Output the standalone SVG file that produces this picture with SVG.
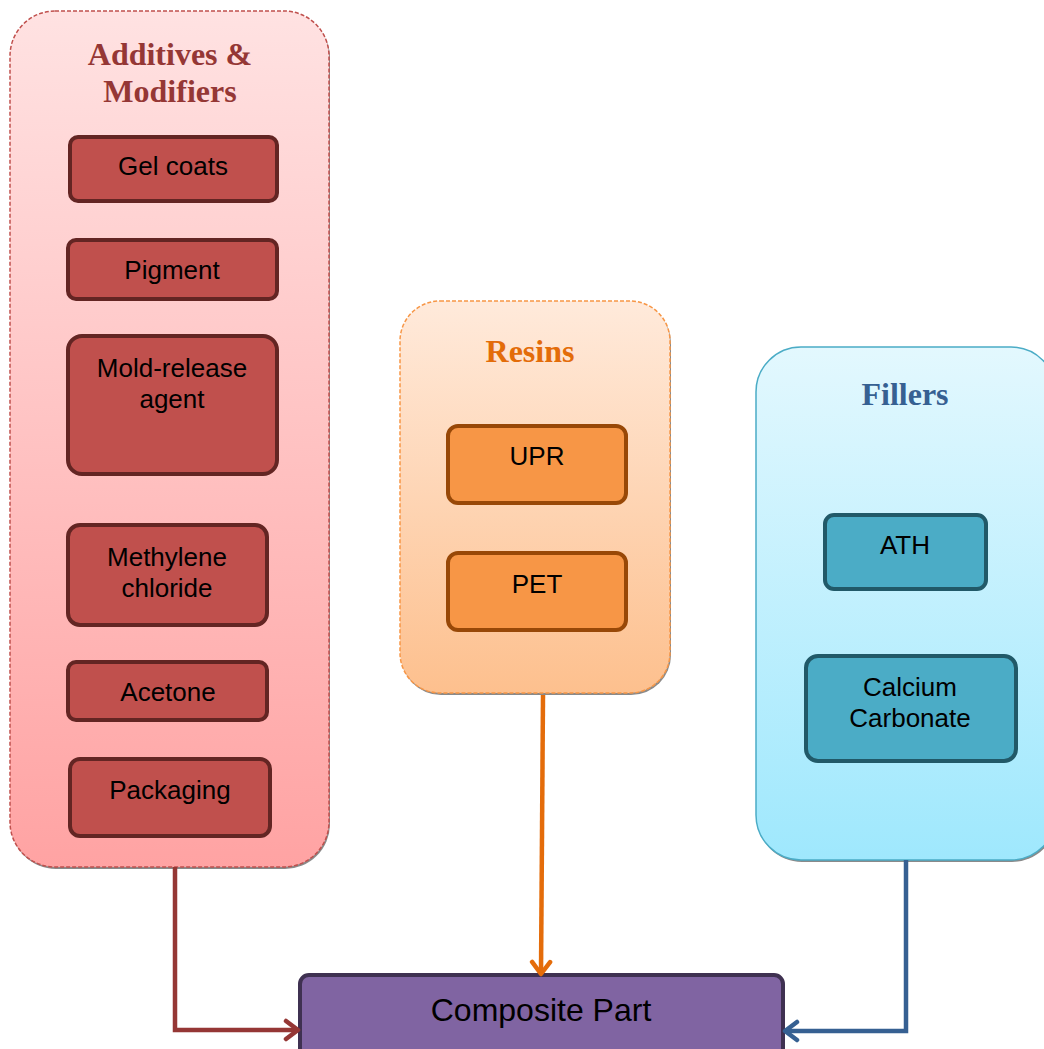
<svg xmlns="http://www.w3.org/2000/svg" width="1044" height="1049" viewBox="0 0 1044 1049">
<defs>
<linearGradient id="gRed" x1="0" y1="0" x2="0" y2="1"><stop offset="0" stop-color="#ffe2e2"/><stop offset="1" stop-color="#ffa3a3"/></linearGradient>
<linearGradient id="gOr" x1="0" y1="0" x2="0" y2="1"><stop offset="0" stop-color="#ffeadb"/><stop offset="1" stop-color="#fdc08e"/></linearGradient>
<linearGradient id="gBl" x1="0" y1="0" x2="0" y2="1"><stop offset="0" stop-color="#e3f8fe"/><stop offset="1" stop-color="#9fe8fd"/></linearGradient>
<marker id="aRed" viewBox="0 0 24 24" refX="21" refY="12" markerWidth="24" markerHeight="24" markerUnits="userSpaceOnUse" orient="auto"><path d="M9,3 L21,12 L9,21" fill="none" stroke="#953735" stroke-width="4.5" stroke-linecap="round" stroke-linejoin="round"/></marker>
<marker id="aOr" viewBox="0 0 24 24" refX="21" refY="12" markerWidth="24" markerHeight="24" markerUnits="userSpaceOnUse" orient="auto"><path d="M9,3 L21,12 L9,21" fill="none" stroke="#e46c0a" stroke-width="4.5" stroke-linecap="round" stroke-linejoin="round"/></marker>
<marker id="aBl" viewBox="0 0 24 24" refX="21" refY="12" markerWidth="24" markerHeight="24" markerUnits="userSpaceOnUse" orient="auto"><path d="M9,3 L21,12 L9,21" fill="none" stroke="#366092" stroke-width="4.5" stroke-linecap="round" stroke-linejoin="round"/></marker>
</defs>
<style>
.title{font-family:"Liberation Serif",serif;font-weight:bold;font-size:32px;text-anchor:middle}
.lbl{font-family:"Liberation Sans",Arial,sans-serif;font-size:26px;text-anchor:middle;fill:#000}
.red{fill:#c0504d;stroke:#632523;stroke-width:4}
.org{fill:#f79646;stroke:#984807;stroke-width:4}
.blu{fill:#4bacc6;stroke:#215968;stroke-width:4}
.shadow{fill:#8a8a8a}
.conn{fill:none;stroke-width:4.5}
</style>
<rect width="1044" height="1049" fill="#fff"/>

<g id="additives">
<rect class="shadow" x="11" y="13" width="319" height="856" rx="45"/>
<rect x="10" y="11" width="319" height="856" rx="45" fill="url(#gRed)" stroke="#c0504d" stroke-width="1.5" stroke-dasharray="4,2"/>
<text class="title" fill="#953735" x="170" y="65">Additives &amp;</text>
<text class="title" fill="#953735" x="170" y="102">Modifiers</text>
</g>
<g id="gelcoats"><rect class="red" x="70" y="137" width="207" height="64" rx="8"/><text class="lbl" x="173" y="175">Gel coats</text></g>
<g id="pigment"><rect class="red" x="68" y="240" width="209" height="59" rx="8"/><text class="lbl" x="172" y="279">Pigment</text></g>
<g id="moldrelease"><rect class="red" x="68" y="336" width="209" height="138" rx="14"/><text class="lbl" x="172" y="377">Mold-release</text><text class="lbl" x="172" y="408">agent</text></g>
<g id="methylene"><rect class="red" x="68" y="525" width="199" height="100" rx="12"/><text class="lbl" x="167" y="566">Methylene</text><text class="lbl" x="167" y="597">chloride</text></g>
<g id="acetone"><rect class="red" x="68" y="662" width="199" height="58" rx="8"/><text class="lbl" x="168" y="701">Acetone</text></g>
<g id="packaging"><rect class="red" x="70" y="759" width="200" height="77" rx="10"/><text class="lbl" x="170" y="799">Packaging</text></g>

<g id="resins">
<rect class="shadow" x="401" y="303" width="270" height="392" rx="40"/>
<rect x="400" y="301" width="270" height="392" rx="40" fill="url(#gOr)" stroke="#f79646" stroke-width="1.5" stroke-dasharray="4,2"/>
<text class="title" fill="#e36c09" x="530" y="362">Resins</text>
</g>
<g id="upr"><rect class="org" x="448" y="426" width="178" height="77" rx="10"/><text class="lbl" x="537" y="465">UPR</text></g>
<g id="pet"><rect class="org" x="448" y="553" width="178" height="77" rx="10"/><text class="lbl" x="537" y="593">PET</text></g>

<g id="fillers">
<rect class="shadow" x="757" y="349" width="300" height="513" rx="45"/>
<rect x="756" y="347" width="300" height="513" rx="45" fill="url(#gBl)" stroke="#4bacc6" stroke-width="1.5"/>
<text class="title" fill="#366092" x="905" y="405">Fillers</text>
</g>
<g id="ath"><rect class="blu" x="825" y="515" width="161" height="74" rx="9"/><text class="lbl" x="905" y="554">ATH</text></g>
<g id="calcium"><rect class="blu" x="806" y="656" width="210" height="105" rx="12"/><text class="lbl" x="910" y="696">Calcium</text><text class="lbl" x="910" y="727">Carbonate</text></g>

<g id="composite"><rect x="300" y="975" width="483" height="90" rx="9" fill="#8064a2" stroke="#3f3151" stroke-width="4"/><text x="541" y="1021" font-family="Liberation Sans,Arial,sans-serif" font-size="32" text-anchor="middle" fill="#000">Composite Part</text></g>

<g id="connectors">
<path class="conn" stroke="#953735" d="M175,867 V1030 H298" marker-end="url(#aRed)"/>
<path class="conn" stroke="#e46c0a" d="M543,695 L541,974" marker-end="url(#aOr)"/>
<path class="conn" stroke="#366092" d="M906,860 V1031 H785" marker-end="url(#aBl)"/>
</g>
</svg>
